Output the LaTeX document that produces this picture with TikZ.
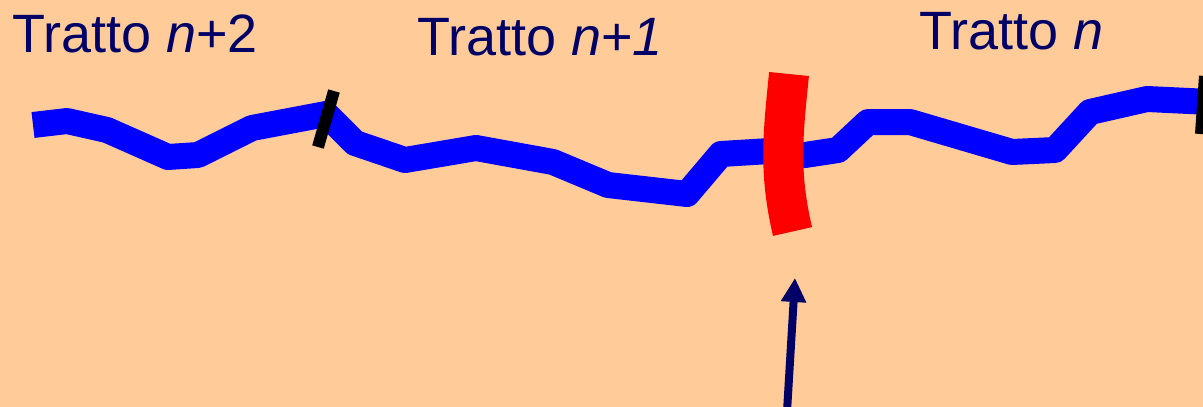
\documentclass[tikz,border=0pt]{standalone}
\usepackage{fontspec}
\setmainfont{Liberation Sans}
\usetikzlibrary{arrows.meta}
\definecolor{peach}{RGB}{255,204,153}
\definecolor{navy}{RGB}{0,0,102}
\begin{document}
\begin{tikzpicture}[x=1pt,y=-1pt,
  label/.style={inner sep=0pt,anchor=base west,text=navy,font=\fontsize{54}{60}\selectfont},
  track/.style={draw=blue,line width=26pt,line join=round},
  tick/.style={draw=black,line width=12pt},
  cut/.style={draw=red,line width=40pt},
  pointer/.style={draw=navy,line width=8pt,-{Triangle[length=24pt,width=24pt]}}]
\useasboundingbox (0,0) rectangle (1203,407);
\clip (0,0) rectangle (1203,407);
\fill[peach] (0,0) rectangle (1203,407);
\node[label] (t2) at (12,52) {Tratto \textit{n}+2};
\node[label] (t1) at (417,55) {Tratto \textit{n}+\textit{1}};
\node[label] (t0) at (919,49) {Tratto \textit{n}};
\draw[track] (33,125) -- (67,121) -- (107,130) -- (168,157) -- (198,155) -- (252,128) -- (326,114)
  -- (355,143) -- (405,160) -- (476,148) -- (553,162) -- (608,185) -- (687,194) -- (721,154)
  -- (770,151) -- (805,155) -- (838,150) -- (868,122) -- (910,122) -- (1012,152) -- (1055,150)
  -- (1090,112) -- (1147,99) -- (1210,102);
\draw[tick] (334,91) -- (318,147);
\draw[tick] (1205,76) -- (1201,134);
\draw[cut] (789,74) .. controls (783,134) and (778.5,171.5) .. (792.5,231.5);
\coordinate (tail) at (786.5,420);
\coordinate (tip) at (795,278);
\draw[pointer] (tail) -- (tip);
\end{tikzpicture}
\end{document}
